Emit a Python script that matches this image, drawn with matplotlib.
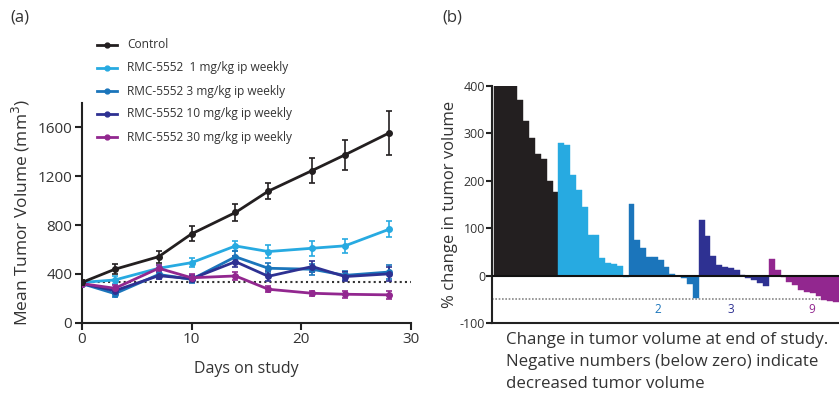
import numpy as np
import matplotlib
matplotlib.use('Agg')
import matplotlib.pyplot as plt

plt.rcParams['font.family'] = ['Open Sans', 'DejaVu Sans']
plt.rcParams['axes.unicode_minus'] = False

# Panel (a): tumor growth curves
days = [0, 3, 7, 10, 14, 17, 21, 24, 28]
group_names = ['Control',
               'RMC-5552  1 mg/kg ip weekly',
               'RMC-5552 3 mg/kg ip weekly',
               'RMC-5552 10 mg/kg ip weekly',
               'RMC-5552 30 mg/kg ip weekly']
control = [330, 438, 541, 728, 903, 1078, 1247, 1376, 1554]
control_err = [20, 40, 50, 62, 68, 68, 100, 123, 182]
dose_1 = [330, 350, 446, 492, 629, 583, 610, 630, 765]
dose_1_err = [20, 30, 30, 35, 40, 55, 60, 55, 65]
dose_3 = [320, 238, 395, 355, 540, 446, 438, 388, 415]
dose_3_err = [20, 25, 30, 30, 45, 40, 45, 35, 60]
dose_10 = [320, 262, 385, 360, 500, 380, 460, 378, 400]
dose_10_err = [20, 25, 30, 30, 45, 40, 45, 35, 55]
dose_30 = [320, 282, 446, 368, 383, 274, 241, 233, 228]
dose_30_err = [20, 25, 30, 30, 30, 25, 20, 30, 35]
baseline = 335

# Panel (b): waterfall, % change at end of study, by group
wf_control = [400, 400, 400, 400, 370, 325, 290, 255, 245, 200, 175]
wf_1 = [280, 275, 212, 180, 145, 86, 86, 37, 27, 24, 20, -3]
wf_3 = [151, 74, 58, 38, 38, 33, 18, 4, -2, -5, -18, -48]
wf_10 = [116, 84, 41, 22, 19, 15, 12, 2, -5, -10, -15, -21]
wf_30 = [34, 11, -3, -13, -20, -30, -34, -37, -44, -51, -53, -55]
responders = ['2', '3', '9']

colors = ['#231f20', '#27aae1', '#1b75bb', '#2e3192', '#92278f']
text_c = '#333333'

fig = plt.figure(figsize=(8.39, 4.03), dpi=100)

# ---- left panel
ax = fig.add_axes([0.0977, 0.1993, 0.392, 0.545])
series = [(control, control_err), (dose_1, dose_1_err), (dose_3, dose_3_err),
          (dose_10, dose_10_err), (dose_30, dose_30_err)]
for i in [1, 2, 3, 4, 0]:
    y, e = series[i]
    ax.errorbar(days, y, yerr=e, color=colors[i], lw=2, marker='o', ms=4,
                capsize=2.5, elinewidth=1.2, capthick=1.2, zorder=3 + (i == 0))
ax.axhline(baseline, color='#333333', ls=(0, (1, 1.5)), lw=1.5, zorder=2)
ax.set_xlim(0, 30)
ax.set_ylim(0, 1800)
ax.set_xticks([0, 10, 20, 30])
ax.set_yticks([0, 400, 800, 1200, 1600])
ax.spines[['top', 'right']].set_visible(False)
for s in ['left', 'bottom']:
    ax.spines[s].set_linewidth(1.5)
    ax.spines[s].set_color('#222222')
ax.tick_params(direction='out', length=5, width=1.5, labelsize=11,
               colors='#222222', labelcolor=text_c, pad=2)
ax.set_xlabel('Days on study', fontsize=11.5, color=text_c, labelpad=10)
ax.set_ylabel('Mean Tumor Volume (mm$^3$)', fontsize=12.5, color=text_c, labelpad=4)

# legend drawn by hand above the curves
for i, name in enumerate(group_names):
    yf = 1 - (45 + 23 * i) / 403
    fig.add_artist(plt.Line2D([97 / 839, 117 / 839], [yf, yf], color=colors[i],
                              lw=2, transform=fig.transFigure))
    fig.add_artist(plt.Line2D([107 / 839], [yf], color=colors[i], marker='o',
                              ms=3.5, transform=fig.transFigure))
    fig.text(127 / 839, yf, name, fontsize=8.6, color=text_c, va='center')

fig.text(10 / 839, 1 - 17 / 403, '(a)', fontsize=12, color=text_c, va='center')
fig.text(442 / 839, 1 - 17 / 403, '(b)', fontsize=12, color=text_c, va='center')

# ---- right panel
bx = fig.add_axes([0.5864, 0.1985, 0.4136, 0.589])
groups = [wf_control, wf_1, wf_3, wf_10, wf_30]
start = 0
for vals, c in zip(groups, colors):
    idx = np.arange(start, start + len(vals))
    bx.bar(idx, vals, width=1.0, color=c, edgecolor=c, lw=0.3, zorder=2)
    start += len(vals)
bx.axhline(0, color='#111111', lw=1.5, zorder=3)
bx.axhline(-50, color='#888888', ls=(0, (1, 1)), lw=1.2, zorder=1)
bx.set_xlim(-0.85, start - 0.5)
bx.set_ylim(-100, 400)
bx.set_xticks([])
bx.set_yticks([-100, 0, 100, 200, 300, 400])
bx.spines[['top', 'right']].set_visible(False)
for s in ['left', 'bottom']:
    bx.spines[s].set_linewidth(1.5)
    bx.spines[s].set_color('#222222')
bx.tick_params(direction='out', length=4, width=1.5, labelsize=9,
               colors='#222222', labelcolor=text_c, pad=1)
bx.set_ylabel('% change in tumor volume', fontsize=12, color=text_c, labelpad=1)

for lab, xpos, c in zip(responders, [27.5, 40, 53.8], colors[2:]):
    bx.text(xpos, -72, lab, color=c, fontsize=8.5, ha='center', va='center')

fig.text(506 / 839, 1 - 332 / 403,
         'Change in tumor volume at end of study.\n'
         'Negative numbers (below zero) indicate\n'
         'decreased tumor volume',
         fontsize=12.2, color=text_c, va='top', linespacing=1.5,
         fontweight='medium')

fig.savefig('out.png', dpi=100)
